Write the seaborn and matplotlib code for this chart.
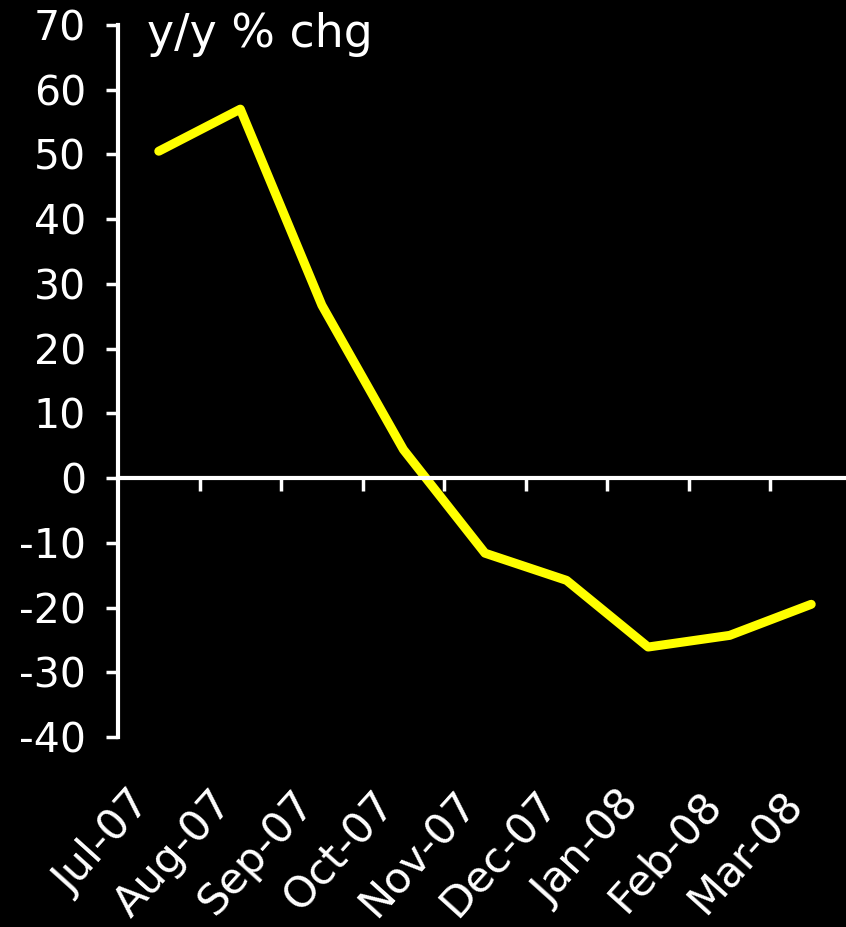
import numpy as np
import matplotlib
matplotlib.use("Agg")
import matplotlib.pyplot as plt
import seaborn as sns

# data
months = ["Jul-07", "Aug-07", "Sep-07", "Oct-07", "Nov-07",
          "Dec-07", "Jan-08", "Feb-08", "Mar-08"]
yoy_chg = [50.5, 57.0, 26.7, 4.4, -11.6, -15.8, -26.1, -24.3, -19.5]
y_ticks = list(range(-40, 71, 10))

sns.set_style("dark", {"axes.facecolor": "black", "figure.facecolor": "black"})
plt.rcParams["font.family"] = ["DejaVu Sans"]
plt.rcParams["axes.unicode_minus"] = False

fig = plt.figure(figsize=(8.46, 9.27), dpi=100)
ax = fig.add_axes([118 / 846, 190 / 927, 734 / 846, 712 / 927])

sns.lineplot(x=months, y=yoy_chg, color="#FFFF00", linewidth=6.5, sort=False, ax=ax)

ax.set_xlim(-0.5, len(months) - 0.5)
ax.set_ylim(-40, 70)
ax.set_yticks(y_ticks)
ax.set_xticks(range(len(months)))
ax.set_xticks(np.arange(len(months) - 1) + 0.5, minor=True)
ax.set_xlabel("")
ax.set_ylabel("")
ax.grid(False)

# spines: left axis plus a zero line (top spine moved to y=0)
for side in ["right", "bottom"]:
    ax.spines[side].set_visible(False)
ax.spines["left"].set_color("white")
ax.spines["left"].set_linewidth(3)
ax.spines["top"].set_position(("data", 0))
ax.spines["top"].set_color("white")
ax.spines["top"].set_linewidth(3)

ax.tick_params(axis="y", colors="white", labelsize=29.5, length=9, width=2.5,
               direction="out", pad=14, left=True)
ax.tick_params(axis="x", which="major", bottom=True, top=False, length=0,
               labelsize=31, labelcolor="white", pad=33)
ax.tick_params(axis="x", which="minor", bottom=False, top=True, direction="in",
               length=9, width=2.5, color="white")
ax.set_xticklabels(months, rotation=48, ha="right", rotation_mode="default")

fig.text(147 / 846, 1 - 12 / 927, "y/y % chg", color="white", fontsize=33,
         ha="left", va="top")

fig.savefig("out.png", dpi=100, facecolor="black")
